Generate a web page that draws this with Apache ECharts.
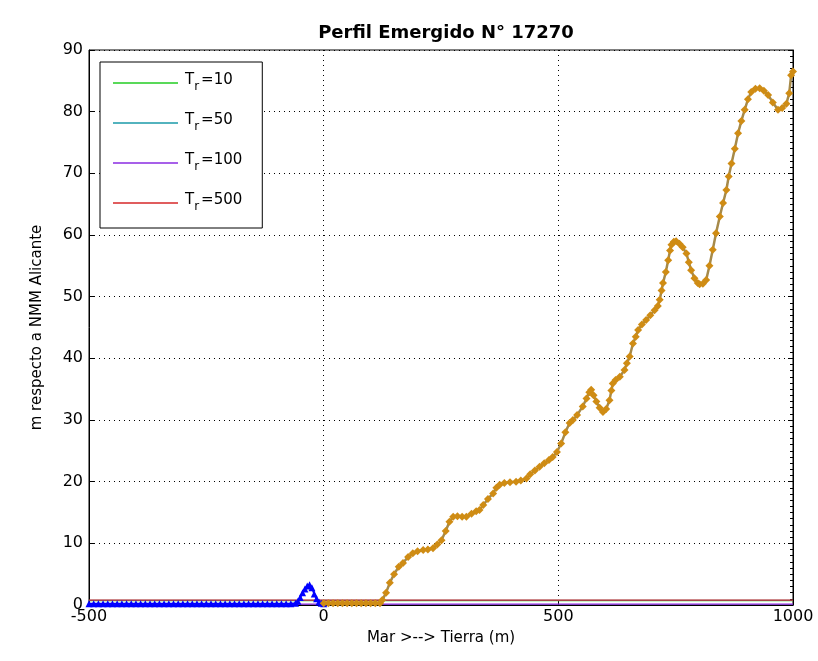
<!DOCTYPE html>
<html>
<head>
<meta charset="utf-8">
<script src="https://cdn.jsdelivr.net/npm/echarts@6/dist/echarts.min.js"></script>
<style>html,body{margin:0;padding:0;background:#fff}#c{width:818px;height:661px}</style>
</head>
<body>
<div id="c"></div>
<script>
// ---- data ----
const titleText = 'Perfil Emergido N\u00b0 17270';
const xTicks = [-500, 0, 500, 1000];
const yTicks = [0, 10, 20, 30, 40, 50, 60, 70, 80, 90];

const returnPeriods = [10, 50, 100, 500];
const levelColors = ['#22cc22', '#1a9aa8', '#8a2be2', '#d62728'];
const levelValues = [0.72, 0.76, 0.15, 0.8];
const levelXRange = [-500, 1000];

// sea-side profile (blue)
const blueX = [-500,-490,-480,-470,-460,-450,-440,-430,-420,-410,-400,-390,-380,-370,-360,-350,-340,-330,-320,-310,-300,-290,-280,-270,-260,-250,-240,-230,-220,-210,-200,-190,-180,-170,-160,-150,-140,-130,-120,-110,-100,-90,-80,-70,-60,-55,-50,-45,-40,-35,-30,-25,-20,-15,-10,-5,0];
const blueY = [0.2,0.2,0.2,0.2,0.2,0.2,0.2,0.2,0.2,0.2,0.2,0.2,0.2,0.2,0.2,0.2,0.2,0.2,0.2,0.2,0.2,0.2,0.2,0.2,0.2,0.2,0.2,0.2,0.2,0.2,0.2,0.2,0.2,0.2,0.2,0.2,0.2,0.2,0.2,0.2,0.2,0.2,0.2,0.2,0.3,0.6,1.2,2.0,2.6,3.1,3.3,2.8,1.8,1.0,0.5,0.3,0.2];

// land-side profile (orange)
const orangeX = [0,10,20,30,40,50,60,70,80,90,100,110,120,125,133,141,150,160,169,180,190,200,212,222,233,242,251,260,268,276,285,295,304,315,325,332,340,350,361,368,375,385,397,410,420,432,440,450,460,470,480,488,497,506,515,524,531,540,552,560,566,570,575,581,588,595,602,609,613,616,622,631,641,646,652,659,665,670,678,687,696,705,712,716,720,723,729,734,738,741,746,751,758,765,773,778,783,790,797,801,808,815,822,829,836,844,851,858,863,869,876,883,890,897,904,911,920,929,938,947,957,968,977,986,992,996,1000];
const orangeY = [0.3,0.3,0.3,0.3,0.3,0.3,0.3,0.3,0.3,0.3,0.3,0.3,0.3,0.8,2.0,3.6,5.0,6.2,6.8,7.8,8.4,8.7,8.9,9.0,9.2,9.8,10.5,12.0,13.5,14.3,14.4,14.3,14.3,14.8,15.2,15.4,16.2,17.2,18.1,19.0,19.5,19.8,19.9,20.0,20.2,20.5,21.2,21.8,22.4,23.0,23.5,24.0,24.8,26.2,28.0,29.5,30.0,30.8,32.2,33.5,34.5,34.9,34.0,33.0,32.0,31.3,31.8,33.2,34.8,35.9,36.5,37.0,38.1,39.2,40.3,42.4,43.5,44.6,45.5,46.2,47.0,47.8,48.5,49.5,51.0,52.2,54.0,55.9,57.5,58.4,58.9,59.0,58.6,58.0,57.0,55.6,54.3,53.0,52.2,52.0,52.1,52.7,55.0,57.6,60.3,63.0,65.2,67.3,69.5,71.6,74.0,76.5,78.5,80.3,82.0,83.2,83.7,83.8,83.4,82.7,81.5,80.3,80.6,81.3,83.0,85.9,86.5];

// dark base segment under the flat start of the land profile
const baseX = [0, 125];
const baseY = [0.15, 0.15];

// ---- build options ----
const zip = (xs, ys) => xs.map((x, i) => [x, ys[i]]);
const FONT = 'DejaVu Sans';

const levelSeries = returnPeriods.map((tr, i) => ({
  name: 'Tr=' + tr,
  type: 'line',
  data: levelXRange.map(x => [x, levelValues[i]]),
  symbol: 'none',
  lineStyle: { color: levelColors[i], width: 1.2 },
  itemStyle: { color: levelColors[i] },
  z: 3,
  silent: true
}));

const option = {
  animation: false,
  backgroundColor: '#ffffff',
  title: {
    text: titleText,
    left: 441, top: 19, textAlign: 'center',
    textStyle: { fontFamily: FONT, fontSize: 18, fontWeight: 'bold', color: '#000' }
  },
  grid: { left: 89, right: 25, top: 50, bottom: 56, show: true, borderColor: '#000', borderWidth: 1, backgroundColor: 'transparent' },
  legend: {
    data: returnPeriods.map(tr => ({ name: 'Tr=' + tr, icon: 'rect' })),
    orient: 'vertical',
    left: 100, top: 62,
    backgroundColor: '#fff',
    borderColor: '#000', borderWidth: 1, borderRadius: 0,
    padding: [5, 20, 15, 13],
    itemWidth: 65, itemHeight: 1.5, itemGap: 14,
    formatter: name => '{t|T}{s|r}{t|' + name.slice(2) + '}',
    textStyle: {
      fontFamily: FONT, color: '#000',
      rich: {
        t: { fontFamily: FONT, fontSize: 15, color: '#000', lineHeight: 20, verticalAlign: 'top', padding: [0, 0, 0, 2] },
        s: { fontFamily: FONT, fontSize: 12, color: '#000', lineHeight: 20, verticalAlign: 'bottom', padding: [14, 0, 0, 0] }
      }
    }
  },
  xAxis: {
    type: 'value', min: -500, max: 1000, interval: 500,
    name: 'Mar >--> Tierra (m)', nameLocation: 'middle', nameGap: 26,
    nameTextStyle: { fontFamily: FONT, fontSize: 15, color: '#000' },
    axisLine: { show: true, onZero: false, lineStyle: { color: '#000', width: 1 } },
    axisTick: { show: true, inside: true, length: 5, lineStyle: { color: '#000' } },
    axisLabel: { fontFamily: FONT, fontSize: 16, color: '#000', margin: 4, formatter: v => xTicks.includes(v) ? String(v) : '' },
    splitLine: { show: true, lineStyle: { color: '#000', type: [1, 4], width: 1 } }
  },
  yAxis: [{
    type: 'value', min: 0, max: 90, interval: 10, position: 'left',
    name: 'm respecto a NMM Alicante', nameLocation: 'middle', nameGap: 44,
    nameTextStyle: { fontFamily: FONT, fontSize: 15, color: '#000' },
    axisLine: { show: true, onZero: false, lineStyle: { color: '#000', width: 1 } },
    axisTick: { show: true, inside: true, length: 5, lineStyle: { color: '#000' } },
    axisLabel: { fontFamily: FONT, fontSize: 16, color: '#000', margin: 6, formatter: v => yTicks.includes(v) ? String(v) : '' },
    splitLine: { show: true, lineStyle: { color: '#000', type: [1, 4], width: 1 } }
  }, {
    type: 'value', min: 0, max: 90, interval: 10, position: 'right',
    axisLine: { show: true, onZero: false, lineStyle: { color: '#000', width: 1 } },
    axisTick: { show: true, inside: true, length: 5, lineStyle: { color: '#000' } },
    minorTick: { show: true, splitNumber: 10, length: 3, lineStyle: { color: '#000' } },
    axisLabel: { show: false },
    splitLine: { show: false }
  }],
  series: [
    ...levelSeries,
    {
      name: 'base', type: 'line', data: zip(baseX, baseY),
      symbol: 'none', lineStyle: { color: '#111', width: 2.5 }, z: 4, silent: true
    },
    {
      name: 'mar', type: 'line', data: zip(blueX, blueY),
      symbol: 'triangle', symbolSize: 7,
      itemStyle: { color: '#0000ff' },
      lineStyle: { color: '#0000ff', width: 2 }, z: 5, silent: true
    },
    {
      name: 'tierra', type: 'line', data: zip(orangeX, orangeY),
      symbol: 'diamond', symbolSize: 8,
      itemStyle: { color: '#cf8c14' },
      lineStyle: { color: '#a68a4a', width: 2.5 }, z: 6, silent: true
    }
  ]
};

const chart = echarts.init(document.getElementById('c'), null, { renderer: 'canvas' });
chart.setOption(option);
</script>
</body>
</html>
